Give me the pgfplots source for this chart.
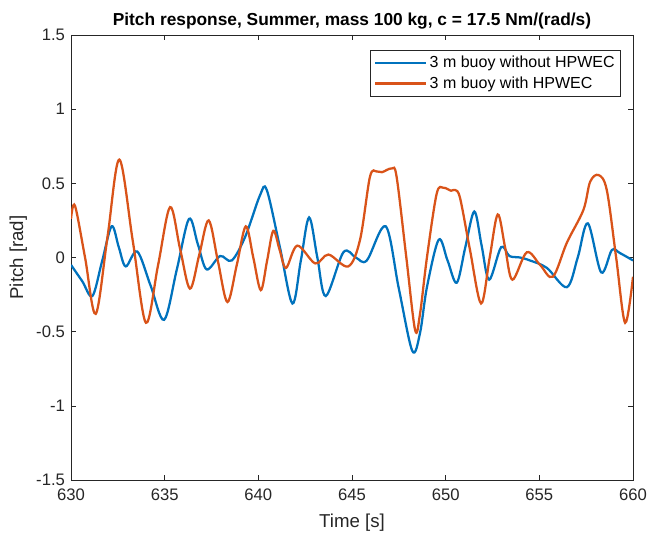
\documentclass[border=0pt]{standalone}
\usepackage{pgfplots}
\pgfplotsset{compat=1.18}
\usepackage{fontspec}
\setmainfont{Liberation Sans}
\definecolor{mblue}{rgb}{0,0.447,0.741}
\definecolor{mred}{rgb}{0.850,0.325,0.098}
\definecolor{axgray}{rgb}{0.15,0.15,0.15}
\begin{document}
\begin{tikzpicture}
\useasboundingbox (-53.25pt,-41.25pt) rectangle (433.5pt,360pt);
\begin{axis}[
  at={(0,0)}, anchor=south west,
  scale only axis, width=421.5pt, height=333.75pt,
  xmin=630, xmax=660, ymin=-1.5, ymax=1.5,
  xtick={630,635,...,660}, ytick={-1.5,-1,...,1.5},
  yticklabels={-1.5,-1,-0.5,0,0.5,1,1.5},
  tick align=inside, tick pos=both,
  major tick length=4pt,
  axis line style={axgray, line width=0.5pt},
  every tick/.style={axgray, line width=0.5pt},
  tick label style={font=\fontsize{12.5}{14}\selectfont, text=axgray},
  /pgf/number format/assume math mode=true,
  xticklabel style={yshift=-3pt},
  yticklabel style={xshift=-1pt},
  title={\bfseries Pitch response, Summer, mass 100 kg, c = 17.5 Nm/(rad/s)},
  title style={font=\fontsize{13}{15}\selectfont, yshift=-5pt},
  xlabel={Time [s]}, ylabel={Pitch [rad]},
  label style={font=\fontsize{14}{16}\selectfont, text=axgray},
  xlabel style={yshift=-3pt},
  ylabel style={yshift=0pt},
  legend style={at={(1,1)}, anchor=north east, xshift=-9pt, yshift=-11.25pt,
    font=\fontsize{12}{14}\selectfont, draw=axgray, line width=0.5pt,
    inner sep=2.5pt, row sep=1pt, cells={anchor=west}},
  legend image code/.code={\draw[#1] (0pt,0pt) -- (38pt,0pt);},
  every axis plot/.append style={line width=1.7pt, smooth, tension=0.55},
]
\addplot[mblue] coordinates {
(630.0,-0.05) (630.6,-0.16) (631.14,-0.26) (631.65,-0.03) (632.17,0.21)
(632.55,0.07) (632.92,-0.06) (633.54,0.04) (634.25,-0.19) (634.97,-0.42)
(635.65,-0.08) (636.3,0.26) (636.77,0.09) (637.24,-0.08) (637.96,0.01)
(638.58,-0.02) (639.3,0.14) (640.09,0.42) (640.45,0.455) (641.15,0.07)
(641.82,-0.31) (642.27,-0.02) (642.71,0.27) (643.15,0.0) (643.6,-0.26)
(644.54,0.035) (645.2,0.0) (645.79,-0.02) (646.8,0.21) (647.5,-0.21)
(648.22,-0.63) (648.63,-0.51) (649.0,-0.2) (649.63,0.12) (650.1,-0.02) (650.59,-0.17)
(651.05,0.07) (651.53,0.31) (651.92,0.08) (652.32,-0.15) (652.96,0.07)
(653.4,0.01) (653.97,0.0) (654.5,-0.02) (655.4,-0.07) (656.47,-0.2)
(657.05,0.0) (657.59,0.23) (658.3,-0.1) (658.87,0.05) (659.3,0.03) (660,-0.02)
};
\addlegendentry{3 m buoy without HPWEC}
\addplot[mred] coordinates {
(630.0,0.26) (630.21,0.35) (630.75,0.0) (631.32,-0.38) (631.95,0.14)
(632.58,0.66) (633.3,0.11) (634.0,-0.44) (634.65,-0.05) (635.29,0.34)
(635.82,0.06) (636.35,-0.21) (636.85,0.02) (637.35,0.25) (637.85,-0.03)
(638.35,-0.30) (638.85,-0.05) (639.33,0.21) (639.73,0.0) (640.13,-0.22)
(640.47,-0.02) (640.8,0.18) (641.14,0.05) (641.48,-0.07) (642.08,0.08)
(643.04,-0.04) (643.74,0.02) (644.8,-0.06) (645.43,0.12) (645.96,0.545)
(646.32,0.58) (646.6,0.575) (647.12,0.60) (647.38,0.545) (647.9,0.0)
(648.37,-0.49) (648.63,-0.38) (649.0,0.0) (649.52,0.43) (649.88,0.47)
(650.29,0.45) (650.5,0.455) (650.77,0.40) (651.3,0.05) (651.89,-0.31)
(652.35,0.0) (652.78,0.29) (653.17,0.07) (653.56,-0.15) (654.33,0.035)
(655.04,-0.05) (655.72,-0.13) (656.47,0.10) (657.35,0.32) (657.71,0.51)
(658.16,0.556) (658.6,0.455) (659.1,0.0) (659.58,-0.44) (660,-0.13)
};
\addlegendentry{3 m buoy with HPWEC}
\end{axis}
\end{tikzpicture}
\end{document}
